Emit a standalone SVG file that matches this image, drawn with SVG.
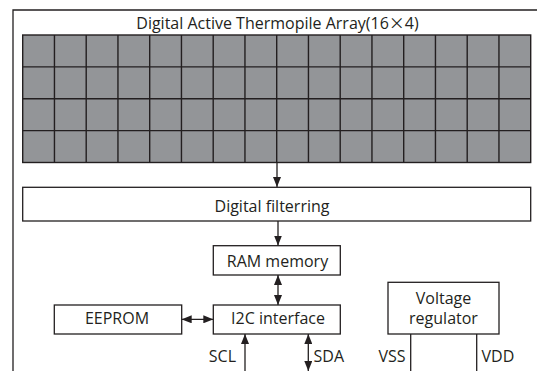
<svg xmlns="http://www.w3.org/2000/svg" width="537" height="371" viewBox="0 0 537 371">
<style>
.box{fill:#fff;stroke:#231f20;stroke-width:1.3}
.t{font-family:"Open Sans","Noto Sans","Liberation Sans",sans-serif;font-size:16px;fill:#231f20}
.cjk{font-family:"Noto Sans CJK JP","Noto Sans CJK SC",sans-serif}
.c{text-anchor:middle}
.ln{stroke:#231f20;stroke-width:1.3;fill:none}
.gl{stroke:#231f20;stroke-width:1.4;fill:none}
</style>
<defs>
<marker id="ah" viewBox="0 0 10 8" refX="10" refY="4" markerWidth="10" markerHeight="8" markerUnits="userSpaceOnUse" orient="auto-start-reverse">
<path d="M0,0 L10,4 L0,8 z" fill="#231f20"/>
</marker>
</defs>
<rect width="537" height="371" fill="#fff"/>
<g id="frame">
<path class="ln" d="M13,371 V10 H537"/>
<text class="t c" x="277.5" y="28.5">Digital Active Thermopile Array(16<tspan class="cjk">×</tspan>4)</text>
</g>
<g id="array">
<rect x="22.7" y="35" width="508" height="127.5" fill="#939598" stroke="#231f20" stroke-width="1.4"/>
<path class="gl" d="M54.45,35V162.5M86.2,35V162.5M117.95,35V162.5M149.7,35V162.5M181.45,35V162.5M213.2,35V162.5M244.95,35V162.5M276.7,35V162.5M308.45,35V162.5M340.2,35V162.5M371.95,35V162.5M403.7,35V162.5M435.45,35V162.5M467.2,35V162.5M498.95,35V162.5M22.7,66.875H530.7M22.7,98.75H530.7M22.7,130.625H530.7"/>
</g>
<g id="filter">
<rect class="box" x="22.7" y="187.3" width="508" height="33.7"/>
<text class="t c" x="272" y="211.5">Digital filterring</text>
</g>
<g id="ram">
<rect class="box" x="213.3" y="245.7" width="127" height="29.3"/>
<text class="t c" x="277.5" y="266.5">RAM memory</text>
</g>
<g id="i2c">
<rect class="box" x="213.3" y="305" width="127" height="29"/>
<text class="t c" x="278" y="324.3">I2C interface</text>
</g>
<g id="eeprom">
<rect class="box" x="54.3" y="305" width="127.4" height="29"/>
<text class="t c" x="117" y="324.3">EEPROM</text>
</g>
<g id="vreg">
<rect class="box" x="388" y="282.3" width="111" height="51.7"/>
<text class="t c" x="443.5" y="304.3">Voltage</text>
<text class="t c" x="443.5" y="324.3">regulator</text>
</g>
<g id="connectors">
<path class="ln" d="M277,162.5 V187" marker-end="url(#ah)"/>
<path class="ln" d="M278,221 V245.5" marker-end="url(#ah)"/>
<path class="ln" d="M278,275 V305" marker-start="url(#ah)" marker-end="url(#ah)"/>
<path class="ln" d="M181.7,319.3 H213.3" marker-start="url(#ah)" marker-end="url(#ah)"/>
<path class="ln" d="M245,371 V334" marker-end="url(#ah)"/>
<path class="ln" d="M308.3,334 V371" marker-start="url(#ah)" marker-end="url(#ah)"/>
<path class="ln" d="M410.7,334 V371"/>
<path class="ln" d="M476.7,334 V371"/>
<text class="t" x="236" y="361.7" text-anchor="end">SCL</text>
<text class="t" x="313.5" y="361.7">SDA</text>
<text class="t" x="405.5" y="361.7" text-anchor="end">VSS</text>
<text class="t" x="481.5" y="361.7">VDD</text>
</g>
</svg>
